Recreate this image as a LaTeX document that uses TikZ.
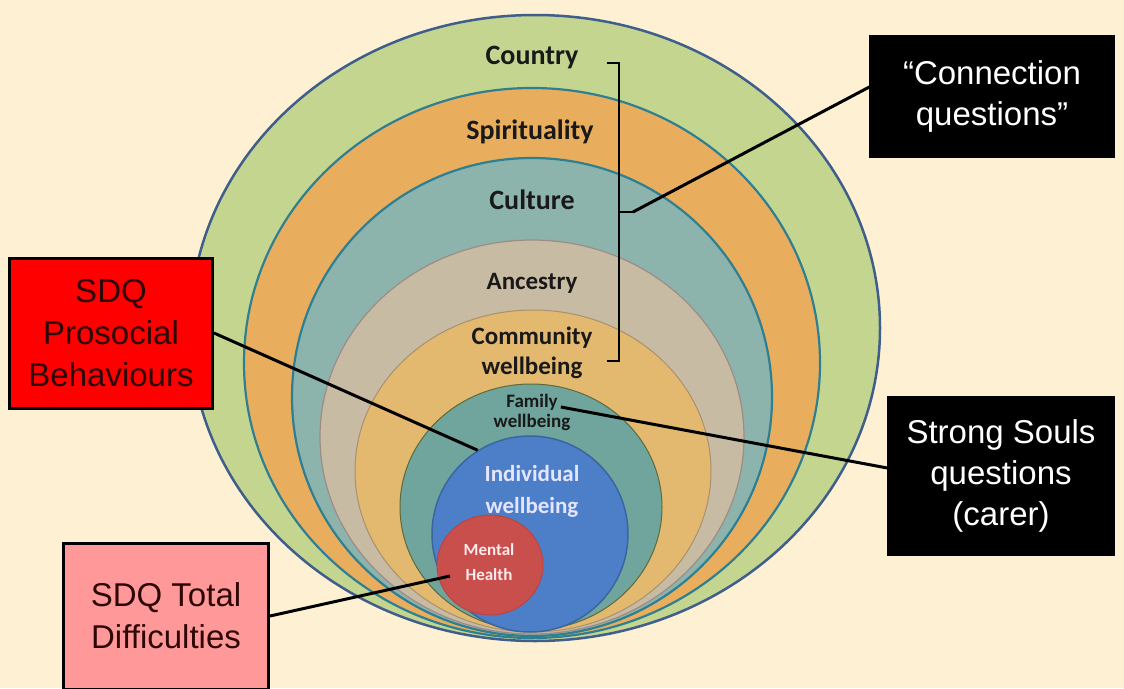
\documentclass[tikz,border=0pt]{standalone}
\usepackage{fontspec}
\setmainfont{Liberation Sans}
\newfontfamily\calfont{Carlito}
\usepackage{tikz}
\usetikzlibrary{shapes.geometric}
\usetikzlibrary{positioning}

\definecolor{bgcol}{HTML}{FDF0D3}
\definecolor{cgreen}{HTML}{C4D590}
\definecolor{corange}{HTML}{E8AE5E}
\definecolor{cteal}{HTML}{8DB4AC}
\definecolor{cbeige}{HTML}{C8BBA3}
\definecolor{ctan}{HTML}{E3B86F}
\definecolor{cfam}{HTML}{6FA59C}
\definecolor{cblue}{HTML}{4D7FC9}
\definecolor{cred}{HTML}{C94F4C}
\definecolor{bblue}{HTML}{3F5E8C}
\definecolor{bteal}{HTML}{2F7F93}
\definecolor{bgrey}{HTML}{9D8C86}
\definecolor{bbrown}{HTML}{A89070}
\definecolor{bolive}{HTML}{5E6A3C}
\definecolor{bdblue}{HTML}{3A66A0}
\definecolor{bdred}{HTML}{B84540}
\definecolor{sdqtext}{HTML}{2E0606}
\definecolor{sdqpink}{HTML}{FF9999}

\begin{document}
\begin{tikzpicture}[x=1pt,y=-1pt]
    \tikzstyle{ring}=[ellipse, inner sep=0pt];
    \tikzstyle{lbl}=[font=\calfont\bfseries, text=black!90, inner sep=0pt];
    \tikzstyle{blackbox}=[fill=black, draw=black, text=white, align=center,
      font=\fontsize{33}{41}\selectfont];
    \tikzstyle{sdqbox}=[draw=black, line width=3pt, text=sdqtext, align=center,
      font=\fontsize{33}{42}\selectfont];
    \tikzstyle{link}=[line width=3pt, black];
    \useasboundingbox (0,0) rectangle (1124,688);
    \fill[bgcol] (0,0) rectangle (1124,688);
    % nested rings, outermost first
    \foreach \nm/\cx/\cy/\w/\h/\fc/\bc/\lw in {
        country/535/328/690/626/cgreen/bblue/2.5,
        spirit/532/363/576/550/corange/bteal/2.2,
        culture/532/397/480/478/cteal/bteal/2.2,
        ancestry/532/437/424/394/cbeige/bgrey/1.2,
        community/533/471/356/322/ctan/bbrown/1,
        family/531/507/262/246/cfam/bolive/1,
        indiv/530/534/196/196/cblue/bdblue/1.5,
        mental/490/565/106/100/cred/bdred/1} {
      \node[ring, fill=\fc, draw=\bc, line width=\lw pt,
        minimum width=\w pt, minimum height=\h pt] (\nm) at (\cx,\cy) {};
    }
    % ring labels
    \node[lbl, font=\fontsize{28}{30}\calfont\bfseries] (countrylbl) at (532,58) {Country};
    \node[lbl, font=\fontsize{28}{30}\calfont\bfseries] (spiritlbl) at (530,132) {Spirituality};
    \node[lbl, font=\fontsize{28}{30}\calfont\bfseries] (culturelbl) at (532,200) {Culture};
    \node[lbl, font=\fontsize{25}{27}\calfont\bfseries] (ancestrylbl) at (532,283) {Ancestry};
    \node[lbl, align=center, font=\fontsize{25}{30}\calfont\bfseries] (communitylbl) at (532,353) {Community\\wellbeing};
    \node[lbl, font=\fontsize{19}{21}\calfont\bfseries] (familylbl) at (532,402) {Family};
    \node[lbl, font=\fontsize{19}{21}\calfont\bfseries, below=4pt of familylbl] (famwblbl) {wellbeing};
    \node[lbl, align=center, text=blue!10!white, font=\fontsize{23}{32}\calfont\bfseries] (indivlbl) at (532,491) {Individual\\wellbeing};
    \node[lbl, align=center, text=red!8!white, font=\fontsize{17}{25}\calfont\bfseries] (mentallbl) at (489,562) {Mental\\Health};
    \coordinate (mhpt) at (450,576);
    % bracket
    \coordinate (btop) at (607,63);
    \coordinate (bbot) at (607,361);
    \coordinate (brk) at (633,212);
    \draw[line width=2.5pt] (btop) -- ++(12,0) |- (bbot);
    \draw[line width=2.5pt] (619,212) -- (brk);
    % question boxes
    \node[blackbox, minimum width=245pt, minimum height=122pt] (connect) at (992,96) {``Connection\\questions''};
    \node[blackbox, minimum width=227pt, minimum height=159pt] (souls) at (1001,476) {Strong Souls\\questions\\(carer)};
    \node[sdqbox, fill=red, minimum width=203pt, minimum height=150pt] (prosocial) at (111,333) {SDQ\\Prosocial\\Behaviours};
    \node[sdqbox, fill=sdqpink, minimum width=205pt, minimum height=146pt] (total) at (166,616) {SDQ Total\\Difficulties};
    % connectors
    \draw[link] (brk) -- ([yshift=9pt]connect.west);
    \draw[link] ([xshift=3pt,yshift=-5pt]familylbl.east) -- ([yshift=8pt]souls.west);
    \draw[link] (prosocial.east) -- (indiv.122);
    \draw[link] (total.east) -- (mhpt);
  \end{tikzpicture}
\end{document}
